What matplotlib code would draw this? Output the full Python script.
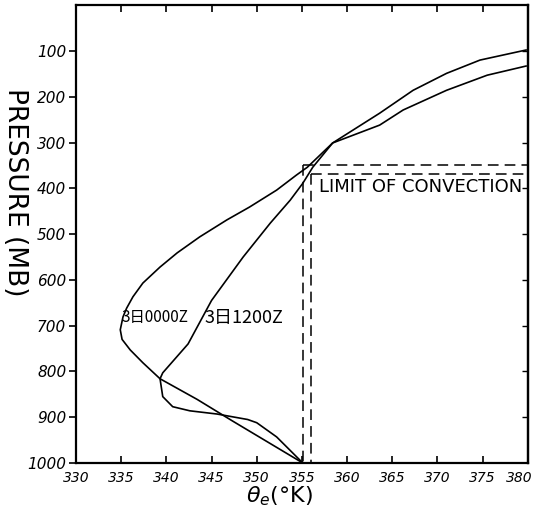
import matplotlib
matplotlib.use("Agg")
import matplotlib.pyplot as plt
import matplotlib.transforms as mtransforms

# Curve 3日0000Z (theta_e in K, pressure in mb)
theta_a = [355.1, 351.2, 347.3, 343.4, 339.3, 337.4, 336.0, 335.1, 334.9, 335.2, 335.6,
           336.3, 337.4, 339.3, 341.2, 343.7, 346.7, 349.2, 352.2, 354.4, 355.6, 358.4,
           363.6, 366.2, 371.0, 375.5, 379.8]
p_a = [1000, 954, 908, 861, 816, 781, 753, 730, 709, 681, 662,
       637, 607, 572, 541, 506, 469, 441, 404, 371, 354, 301,
       262, 229, 186, 153, 133]

# Curve 3日1200Z
theta_b = [355.1, 352.2, 350.0, 349.0, 345.6, 342.6, 340.7, 339.6, 339.3, 339.6, 342.4,
           345.0, 348.5, 351.5, 353.7, 355.1, 356.2, 358.4, 363.6, 367.3, 371.0, 374.7, 379.8]
p_b = [1000, 943, 912, 905, 893, 886, 877, 855, 816, 803, 740,
       645, 550, 476, 426, 389, 354, 301, 236, 186, 149, 120, 98]

# Limit-of-convection guide lines
lim_theta = [355.1, 356.0]
lim_p = [349, 369]

x_ticks = [330, 335, 340, 345, 350, 355, 360, 365, 370, 375, 380]
y_ticks = [100, 200, 300, 400, 500, 600, 700, 800, 900, 1000]

fig = plt.figure(figsize=(5.37, 5.14), dpi=100)
ax = fig.add_axes([0.1415, 0.0992, 0.8415, 0.8908])

ax.plot(theta_a, p_a, color="black", lw=1.2)
ax.plot(theta_b, p_b, color="black", lw=1.2)

for t, p in zip(lim_theta, lim_p):
    ax.plot([t, t], [p, 1000], color="black", lw=1.1, dashes=(7, 4))
    ax.plot([t, 380], [p, p], color="black", lw=1.1, dashes=(7, 4))

ax.set_xlim(330, 380)
ax.set_ylim(1000, 0)

ax.set_xticks(x_ticks)
ax.set_xticklabels([str(v) for v in x_ticks], fontsize=10, style="italic",
                   family="DejaVu Sans")
ax.set_yticks(y_ticks)
ax.set_yticklabels([str(v) for v in y_ticks], fontsize=11, style="italic",
                   family="DejaVu Sans")
ax.tick_params(axis="x", direction="in", length=5, width=1.2, top=True, pad=6)
ax.tick_params(axis="y", direction="out", length=5, width=1.2, pad=2)
last = ax.get_xticklabels()[-1]
last.set_transform(last.get_transform() +
                   mtransforms.ScaledTranslation(-0.09, 0, fig.dpi_scale_trans))

# right side inner ticks
ax2 = ax.secondary_yaxis("right")
ax2.set_yticks(y_ticks[:-1])
ax2.set_yticklabels([])
ax2.tick_params(direction="in", length=4, width=1.0)

for s in ax.spines.values():
    s.set_linewidth(1.6)
ax2.spines["right"].set_linewidth(1.6)

ax.text(356.9, 397, "LIMIT OF CONVECTION", fontsize=13, family="DejaVu Sans",
        ha="left", va="center")
ax.text(335.0, 682, "3日0000Z", fontsize=11, family=["Noto Sans CJK SC", "DejaVu Sans"],
        ha="left", va="center")
ax.text(344.2, 684, "3日1200Z", fontsize=13, family=["Noto Sans CJK SC", "DejaVu Sans"],
        ha="left", va="center")

fig.text(0.028, 0.625, "PRESSURE (MB)", rotation=270, fontsize=19, ha="center",
         va="center", family="DejaVu Sans")
fig.text(0.52, 0.035, r"$\theta_e$(°K)", fontsize=16, ha="center", va="center")

fig.savefig("out.png", dpi=100)
